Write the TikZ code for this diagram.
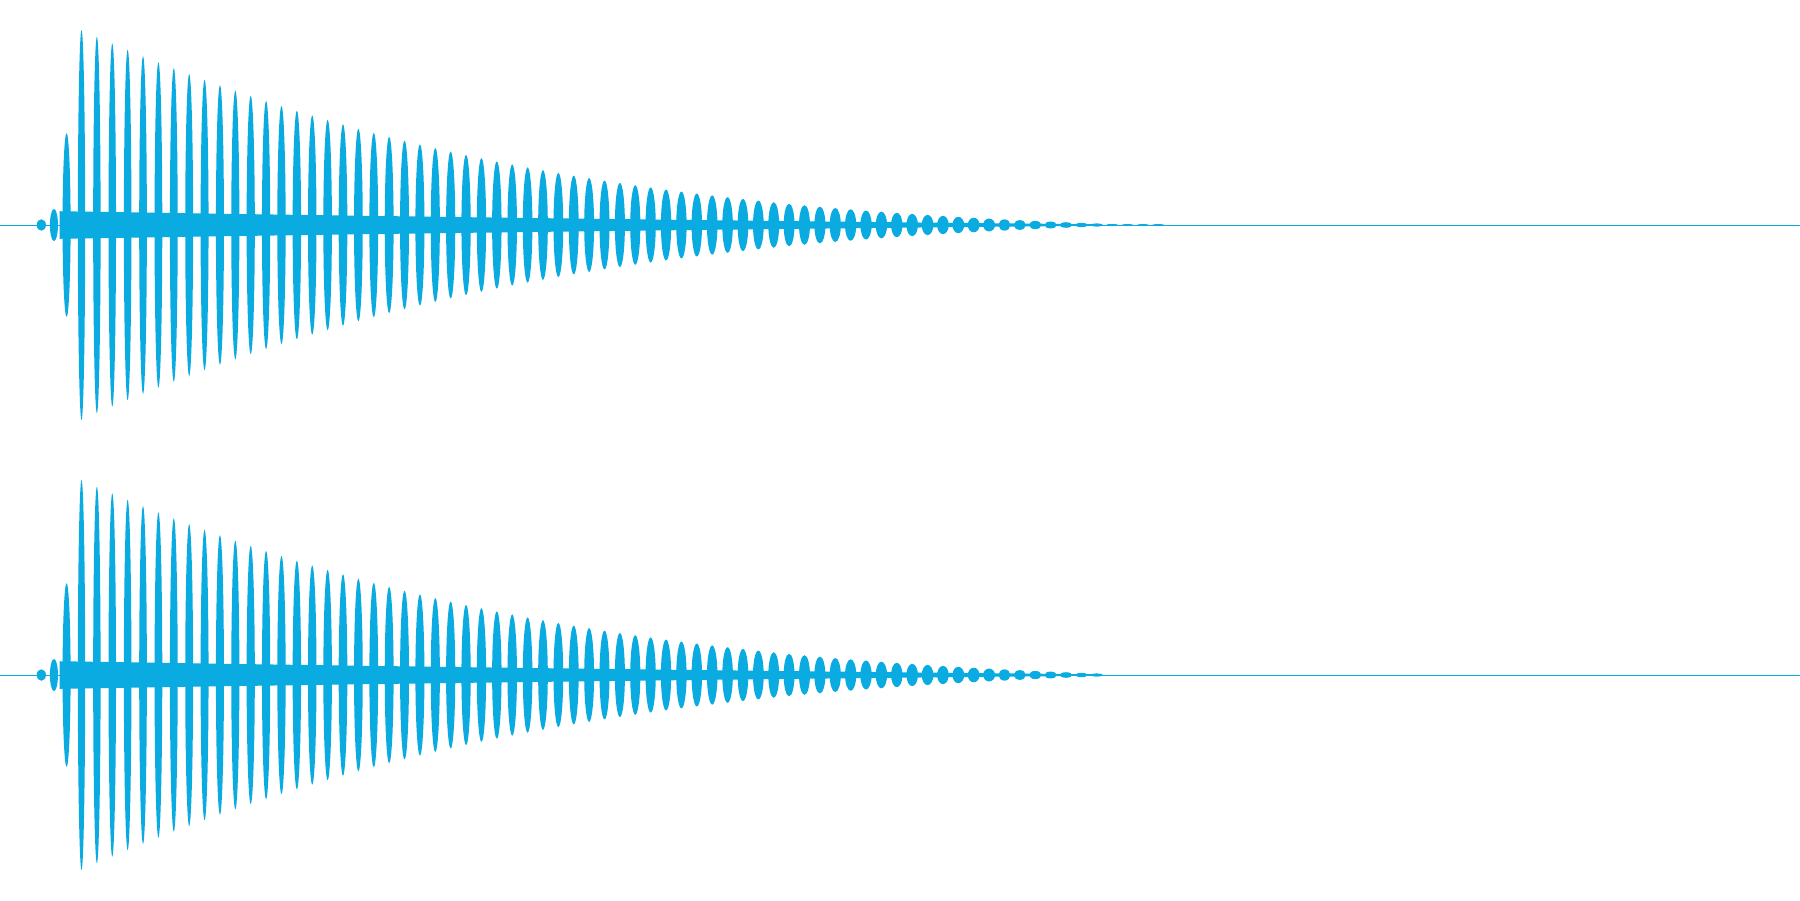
\documentclass[tikz,border=0pt]{standalone}
\definecolor{wave}{HTML}{0AABE0}
\tikzset{lobe/.style={fill=wave,draw=none}}
\begin{document}
\begin{tikzpicture}[x=1.148pt,y=-1.148pt]
\useasboundingbox (0,0) rectangle (1568,784);
\foreach \cy/\nn in {196/70,588/66}{
  \draw[wave,line width=0.6pt] (0,\cy) coordinate (l\cy) -- (1568,\cy) coordinate (r\cy);
  \fill[wave] (52,\cy-12) .. controls (300,\cy-8) and (600,\cy-4) .. (960,\cy-0.6)
     -- (960,\cy+0.6) .. controls (600,\cy+4) and (300,\cy+8) .. (52,\cy+12) -- cycle;
  \fill[lobe] (36,\cy) ellipse [x radius=4,y radius=5];
  \fill[lobe] (47,\cy) ellipse [x radius=3.5,y radius=14];
  \fill[lobe] (58,\cy) ellipse [x radius=3.5,y radius=80];
  \foreach \i in {0,...,\nn}{
    \pgfmathsetmacro{\xx}{71+13.4*\i}
    \pgfmathsetmacro{\aa}{max(169*exp(-(\xx-71)/380)*(1-((\xx-71)/900)^2),0)+0.8}
    \pgfmathsetmacro{\rr}{3.2+0.0025*(\xx-71)}
    \fill[lobe] (\xx,\cy) ellipse [x radius=\rr,y radius=\aa];
  }
}
\end{tikzpicture}
\end{document}
